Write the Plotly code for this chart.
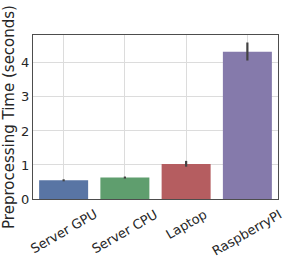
import plotly.graph_objects as go

categories = ["Server GPU", "Server CPU", "Laptop", "RaspberryPI"]
values = [0.55, 0.63, 1.03, 4.33]
err_plus = [0.03, 0.03, 0.09, 0.27]
err_minus = [0.03, 0.03, 0.08, 0.26]
colors = ["#5975a4", "#5f9e6e", "#b55d60", "#857aab"]
y_ticks = [0, 1, 2, 3, 4]

fig = go.Figure()
fig.add_trace(go.Bar(
    x=categories, y=values,
    marker=dict(color=colors, line=dict(width=0)),
    width=0.8,
    error_y=dict(type="data", symmetric=False, array=err_plus, arrayminus=err_minus,
                 color="#424242", thickness=2.2, width=0),
))
axis_common = dict(showline=True, linecolor="#4d4d4d", linewidth=1.3, mirror=True,
                   showgrid=True, gridcolor="#dcdcdc", gridwidth=1, zeroline=False,
                   automargin=False, ticks="",
                   tickfont=dict(family="DejaVu Sans", size=13, color="#262626"))
x_range = [-0.5, len(categories) - 0.5]
fig.update_layout(
    width=291, height=260,
    margin=dict(l=33, r=13, t=35, b=61),
    paper_bgcolor="white", plot_bgcolor="white",
    showlegend=False,
    xaxis=dict(range=x_range, showticklabels=False, **axis_common),
    yaxis=dict(range=[0, 4.82], tickvals=y_ticks,
               title=dict(text="Preprocessing Time (seconds)", standoff=2,
                          font=dict(family="DejaVu Sans", size=15, color="#262626")),
               **axis_common),
    font=dict(family="DejaVu Sans"),
)
# category labels, centred under each category (matplotlib-style rotated ticks)
for i, c in enumerate(categories):
    xf = (i - x_range[0]) / (x_range[1] - x_range[0])
    fig.add_annotation(x=xf, xref="paper", y=0, yref="paper", text=c, showarrow=False,
                       textangle=-30, xanchor="center", yanchor="top", yshift=-5,
                       font=dict(family="DejaVu Sans", size=13, color="#262626"))
fig.write_html("out.html", config={"displayModeBar": False},
               post_script="document.body.style.margin='0px';")
